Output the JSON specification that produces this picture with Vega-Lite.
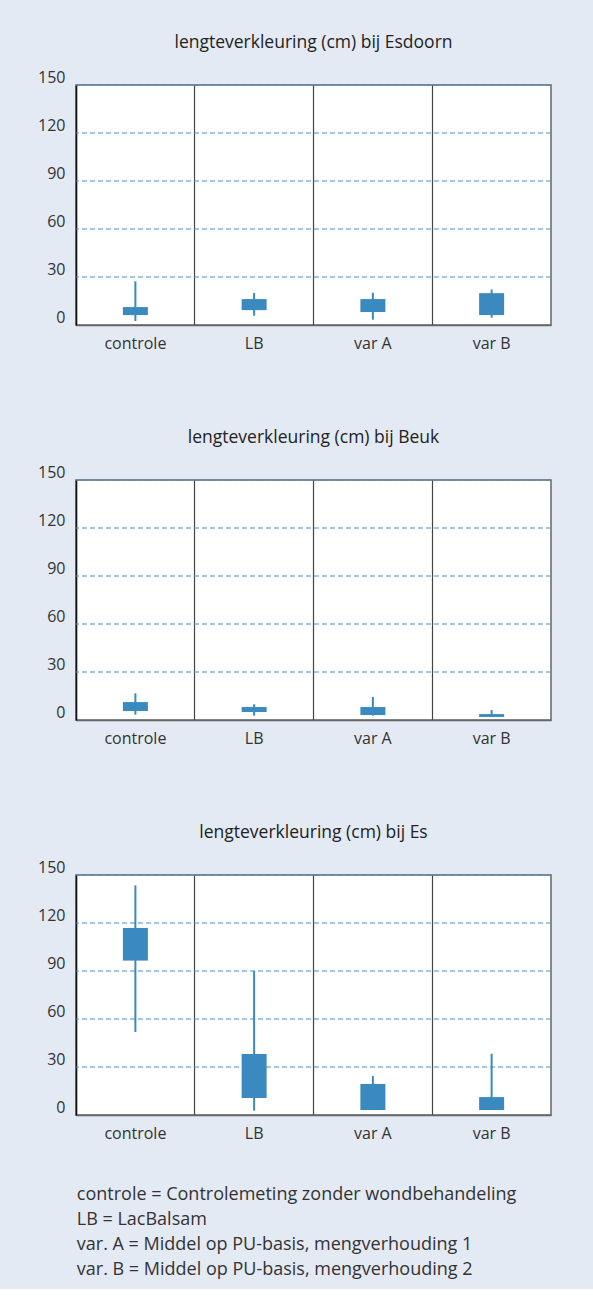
{
  "$schema": "https://vega.github.io/schema/vega-lite/v6.json",
  "background": "#E4EAF4",
  "padding": {"left": 36, "top": 32, "right": 40, "bottom": 10},
  "datasets": {
    "d": [
      {"panel": "Esdoorn", "cat": "controle", "lo": 2.5, "q1": 6.2, "q3": 11.2, "hi": 27.3},
      {"panel": "Esdoorn", "cat": "LB", "lo": 5.8, "q1": 9.3, "q3": 16.2, "hi": 20},
      {"panel": "Esdoorn", "cat": "var A", "lo": 3.3, "q1": 8.1, "q3": 16.2, "hi": 20.2},
      {"panel": "Esdoorn", "cat": "var B", "lo": 4.6, "q1": 6.2, "q3": 19.9, "hi": 22.2},
      {"panel": "Beuk", "cat": "controle", "lo": 3.3, "q1": 5.6, "q3": 11.2, "hi": 16.7},
      {"panel": "Beuk", "cat": "LB", "lo": 2.7, "q1": 5, "q3": 8.1, "hi": 9.8},
      {"panel": "Beuk", "cat": "var A", "lo": 2.7, "q1": 3.1, "q3": 8.1, "hi": 14.4},
      {"panel": "Beuk", "cat": "var B", "lo": 1.9, "q1": 1.9, "q3": 3.7, "hi": 6.2},
      {"panel": "Es", "cat": "controle", "lo": 51.9, "q1": 96.5, "q3": 116.9, "hi": 143.5},
      {"panel": "Es", "cat": "LB", "lo": 2.7, "q1": 10.6, "q3": 38.1, "hi": 90},
      {"panel": "Es", "cat": "var A", "lo": 3.1, "q1": 3.1, "q3": 19.4, "hi": 24.4},
      {"panel": "Es", "cat": "var B", "lo": 3.1, "q1": 3.1, "q3": 11.2, "hi": 38.3}
    ],
    "grid": [{"v": 30}, {"v": 60}, {"v": 90}, {"v": 120}, {"v": 150}]
  },
  "title": {
    "text": [
      "controle = Controlemeting zonder wondbehandeling",
      "LB = LacBalsam",
      "var. A = Middel op PU-basis, mengverhouding 1",
      "var. B = Middel op PU-basis, mengverhouding 2"
    ],
    "orient": "bottom",
    "anchor": "start",
    "dx": 40,
    "fontSize": 18,
    "fontWeight": "normal",
    "font": "Open Sans",
    "color": "#333333",
    "lineHeight": 25,
    "offset": 44
  },
  "spacing": 75,
  "vconcat": [
    {
      "width": 475, "height": 240,
      "title": {"text": "lengteverkleuring (cm) bij Esdoorn"},
      "layer": [
        {"data": {"name": "grid"},
         "mark": {"type": "rule", "strokeWidth": 1, "color": "#4A8FC4", "strokeDash": [5, 3]},
         "encoding": {"y": {"field": "v", "type": "quantitative", "scale": {"domain": [0, 150], "nice": false}, "axis": {"title": null, "values": [0, 30, 60, 90, 120, 150], "labelFontSize": 16, "labelColor": "#333333", "labelBaseline": "bottom", "labelPadding": 11, "ticks": false, "domainColor": "#111111", "domainWidth": 1.5, "grid": false}}}},
        {"data": {"name": "d"},
         "transform": [{"filter": "datum.panel == 'Esdoorn'"}],
         "mark": {"type": "rule", "strokeWidth": 2, "color": "#3A8ABF"},
         "encoding": {
           "x": {"field": "cat", "type": "nominal", "sort": null, "axis": {"title": null, "labelAngle": 0, "labelFontSize": 16, "labelColor": "#333333", "labelPadding": 10, "ticks": false, "domainColor": "#666666", "domainWidth": 1.5, "grid": true, "gridColor": "#444444", "gridWidth": 1.2, "gridDash": [], "bandPosition": 0}},
           "y": {"field": "lo", "type": "quantitative"},
           "y2": {"field": "hi"}}},
        {"data": {"name": "d"},
         "transform": [{"filter": "datum.panel == 'Esdoorn'"}],
         "mark": {"type": "bar", "size": 25, "color": "#3A8ABF"},
         "encoding": {"x": {"field": "cat", "type": "nominal", "sort": null}, "y": {"field": "q1", "type": "quantitative"}, "y2": {"field": "q3"}}}
      ]
    },
    {
      "width": 475, "height": 240,
      "title": {"text": "lengteverkleuring (cm) bij Beuk"},
      "layer": [
        {"data": {"name": "grid"},
         "mark": {"type": "rule", "strokeWidth": 1, "color": "#4A8FC4", "strokeDash": [5, 3]},
         "encoding": {"y": {"field": "v", "type": "quantitative", "scale": {"domain": [0, 150], "nice": false}, "axis": {"title": null, "values": [0, 30, 60, 90, 120, 150], "labelFontSize": 16, "labelColor": "#333333", "labelBaseline": "bottom", "labelPadding": 11, "ticks": false, "domainColor": "#111111", "domainWidth": 1.5, "grid": false}}}},
        {"data": {"name": "d"},
         "transform": [{"filter": "datum.panel == 'Beuk'"}],
         "mark": {"type": "rule", "strokeWidth": 2, "color": "#3A8ABF"},
         "encoding": {
           "x": {"field": "cat", "type": "nominal", "sort": null, "axis": {"title": null, "labelAngle": 0, "labelFontSize": 16, "labelColor": "#333333", "labelPadding": 10, "ticks": false, "domainColor": "#666666", "domainWidth": 1.5, "grid": true, "gridColor": "#444444", "gridWidth": 1.2, "gridDash": [], "bandPosition": 0}},
           "y": {"field": "lo", "type": "quantitative"},
           "y2": {"field": "hi"}}},
        {"data": {"name": "d"},
         "transform": [{"filter": "datum.panel == 'Beuk'"}],
         "mark": {"type": "bar", "size": 25, "color": "#3A8ABF"},
         "encoding": {"x": {"field": "cat", "type": "nominal", "sort": null}, "y": {"field": "q1", "type": "quantitative"}, "y2": {"field": "q3"}}}
      ]
    },
    {
      "width": 475, "height": 240,
      "title": {"text": "lengteverkleuring (cm) bij Es"},
      "layer": [
        {"data": {"name": "grid"},
         "mark": {"type": "rule", "strokeWidth": 1, "color": "#4A8FC4", "strokeDash": [5, 3]},
         "encoding": {"y": {"field": "v", "type": "quantitative", "scale": {"domain": [0, 150], "nice": false}, "axis": {"title": null, "values": [0, 30, 60, 90, 120, 150], "labelFontSize": 16, "labelColor": "#333333", "labelBaseline": "bottom", "labelPadding": 11, "ticks": false, "domainColor": "#111111", "domainWidth": 1.5, "grid": false}}}},
        {"data": {"name": "d"},
         "transform": [{"filter": "datum.panel == 'Es'"}],
         "mark": {"type": "rule", "strokeWidth": 2, "color": "#3A8ABF"},
         "encoding": {
           "x": {"field": "cat", "type": "nominal", "sort": null, "axis": {"title": null, "labelAngle": 0, "labelFontSize": 16, "labelColor": "#333333", "labelPadding": 10, "ticks": false, "domainColor": "#666666", "domainWidth": 1.5, "grid": true, "gridColor": "#444444", "gridWidth": 1.2, "gridDash": [], "bandPosition": 0}},
           "y": {"field": "lo", "type": "quantitative"},
           "y2": {"field": "hi"}}},
        {"data": {"name": "d"},
         "transform": [{"filter": "datum.panel == 'Es'"}],
         "mark": {"type": "bar", "size": 25, "color": "#3A8ABF"},
         "encoding": {"x": {"field": "cat", "type": "nominal", "sort": null}, "y": {"field": "q1", "type": "quantitative"}, "y2": {"field": "q3"}}}
      ]
    }
  ],
  "config": {
    "font": "Open Sans",
    "view": {"fill": "white", "stroke": "#666666", "strokeWidth": 1.5},
    "title": {"fontSize": 17.5, "fontWeight": "normal", "color": "#222222", "anchor": "middle", "offset": 18},
    "scale": {"bandPaddingInner": 0, "bandPaddingOuter": 0}
  }
}
